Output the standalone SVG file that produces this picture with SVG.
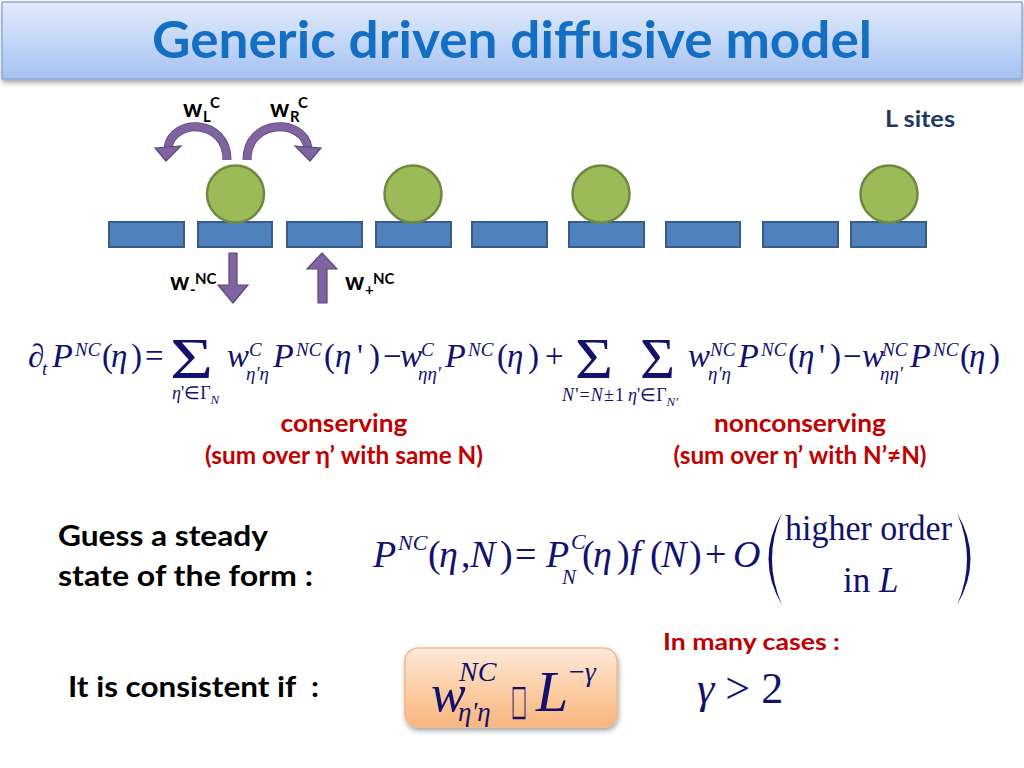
<svg xmlns="http://www.w3.org/2000/svg" width="1024" height="768" viewBox="0 0 1024 768">
<defs>
<linearGradient id="hdr" x1="0" y1="0" x2="0" y2="1">
<stop offset="0" stop-color="#e2ebfb"/>
<stop offset="1" stop-color="#a6c2f2"/>
</linearGradient>
<linearGradient id="peach" x1="0" y1="0" x2="0" y2="1">
<stop offset="0" stop-color="#fde9da"/>
<stop offset="0.5" stop-color="#fccfa8"/>
<stop offset="1" stop-color="#f9b57e"/>
</linearGradient>
<filter id="sh" x="-10%" y="-10%" width="130%" height="140%">
<feDropShadow dx="1" dy="3" stdDeviation="2.5" flood-color="#000" flood-opacity="0.35"/>
</filter>
</defs>
<style>
.m{font-family:"Liberation Serif","Times New Roman",serif;fill:#12126e}
.i{font-style:italic}
.s{font-family:Lato,"Open Sans",sans-serif;font-weight:bold}
.red{fill:#c00000}
.blk{fill:#000}
.site{fill:#4f81bd;stroke:#385d8a;stroke-width:2}
.ball{fill:#9bbb59;stroke:#71893f;stroke-width:2.5}
.arw{fill:#8064a2;stroke:#5c4776;stroke-width:1.2}
.arc{fill:none;stroke:#8064a2;stroke-width:7.5}
.arco{fill:none;stroke:#5c4776;stroke-width:9}
</style>
<rect width="1024" height="768" fill="#ffffff"/>

<g id="header">
<rect x="2" y="2" width="1020" height="77" fill="url(#hdr)" stroke="#8eaadf" stroke-width="1.5" filter="url(#sh)"/>
<text x="152" y="58" class="s" font-size="52" fill="#136fc4" textLength="720" lengthAdjust="spacingAndGlyphs">Generic driven diffusive model</text>
</g>

<g id="lattice">
<g id="site1"><rect class="site" x="109" y="222" width="75" height="25"/></g>
<g id="site2"><rect class="site" x="198" y="222" width="74" height="25"/></g>
<g id="site3"><rect class="site" x="287" y="222" width="75" height="25"/></g>
<g id="site4"><rect class="site" x="376" y="222" width="75" height="25"/></g>
<g id="site5"><rect class="site" x="472" y="222" width="75" height="25"/></g>
<g id="site6"><rect class="site" x="569" y="222" width="75" height="25"/></g>
<g id="site7"><rect class="site" x="666" y="222" width="74" height="25"/></g>
<g id="site8"><rect class="site" x="763" y="222" width="75" height="25"/></g>
<g id="site9"><rect class="site" x="851" y="222" width="75" height="25"/></g>
<g id="particle1"><circle class="ball" cx="235.5" cy="194" r="28.5"/></g>
<g id="particle2"><circle class="ball" cx="413" cy="194" r="28.5"/></g>
<g id="particle3"><circle class="ball" cx="601" cy="194" r="28.5"/></g>
<g id="particle4"><circle class="ball" cx="889" cy="194" r="28.5"/></g>
</g>

<g id="connectors">
<path class="arco" d="M227 160 C227 118 172 118 168 148"/>
<path class="arc" d="M227 160 C227 118 172 118 168 148"/>
<polygon class="arw" points="155,148 181,146 166,161"/>
<path class="arco" d="M247 160 C247 118 304 118 308 148"/>
<path class="arc" d="M247 160 C247 118 304 118 308 148"/>
<polygon class="arw" points="295,146 321,148 310,161"/>
<polygon class="arw" points="229,253 237,253 237,285 248,285 233,303 218,285 229,285"/>
<polygon class="arw" points="322,253 337,269 327,269 327,303 318,303 318,269 307,269"/>
</g>

<g id="rate-labels" class="s blk">
<text x="183" y="117" font-size="24">w</text>
<text x="203" y="122" font-size="15">L</text>
<text x="210" y="108" font-size="15">C</text>
<text x="270" y="117" font-size="24">w</text>
<text x="290" y="122" font-size="15">R</text>
<text x="298" y="108" font-size="15">C</text>
<text x="170" y="290" font-size="24">w</text>
<text x="190" y="295" font-size="15">-</text>
<text x="195" y="284" font-size="15">NC</text>
<text x="345" y="290" font-size="24">w</text>
<text x="365" y="295" font-size="15">+</text>
<text x="373" y="284" font-size="15">NC</text>
</g>

<text id="lsites" x="885" y="127" class="s" font-size="23" fill="#1f3864" textLength="70" lengthAdjust="spacingAndGlyphs">L sites</text>

<g id="master-equation" class="m">
<text x="28" y="367" font-size="33">∂</text>
<text x="42" y="375" font-size="19" class="i">t</text>
<text x="52" y="367" font-size="34" class="i">P</text>
<text x="75" y="356" font-size="19" class="i">NC</text>
<text x="102 111 131" y="367" font-size="33">(<tspan class="i">η</tspan>)</text>
<text x="145" y="367" font-size="33">=</text>
<text x="170" y="378" font-size="56" textLength="43" lengthAdjust="spacingAndGlyphs">Σ</text>
<text x="172" y="399" font-size="18"><tspan class="i">η</tspan>'∈Γ<tspan class="i" font-size="13" dy="5">N</tspan></text>
<text x="227" y="367" font-size="33" class="i">w</text>
<text x="249" y="356" font-size="19" class="i">C</text>
<text x="246" y="380" font-size="19" class="i">η'η</text>
<text x="273" y="367" font-size="34" class="i">P</text>
<text x="296" y="356" font-size="19" class="i">NC</text>
<text x="324 335 357 369" y="367" font-size="33">(<tspan class="i">η</tspan>')</text>
<text x="383" y="367" font-size="33">−</text>
<text x="400" y="367" font-size="33" class="i">w</text>
<text x="421" y="356" font-size="19" class="i">C</text>
<text x="418" y="380" font-size="19" class="i">ηη'</text>
<text x="445" y="367" font-size="34" class="i">P</text>
<text x="468" y="356" font-size="19" class="i">NC</text>
<text x="497 507 528" y="367" font-size="33">(<tspan class="i">η</tspan>)</text>
<text x="545" y="367" font-size="33">+</text>
<text x="575" y="378" font-size="56" textLength="38" lengthAdjust="spacingAndGlyphs">Σ</text>
<text x="640" y="378" font-size="56" textLength="35" lengthAdjust="spacingAndGlyphs">Σ</text>
<text x="562" y="401" font-size="18" textLength="62" lengthAdjust="spacing"><tspan class="i">N</tspan>'=<tspan class="i">N</tspan>±1</text>
<text x="628" y="401" font-size="18"><tspan class="i">η</tspan>'∈Γ<tspan class="i" font-size="13" dy="5">N'</tspan></text>
<text x="688" y="367" font-size="33" class="i">w</text>
<text x="710" y="356" font-size="19" class="i">NC</text>
<text x="708" y="380" font-size="19" class="i">η'η</text>
<text x="738" y="367" font-size="34" class="i">P</text>
<text x="761" y="356" font-size="19" class="i">NC</text>
<text x="788 798 819 830" y="367" font-size="33">(<tspan class="i">η</tspan>')</text>
<text x="843" y="367" font-size="33">−</text>
<text x="862" y="367" font-size="33" class="i">w</text>
<text x="882" y="356" font-size="19" class="i">NC</text>
<text x="880" y="380" font-size="19" class="i">ηη'</text>
<text x="910" y="367" font-size="34" class="i">P</text>
<text x="933" y="356" font-size="19" class="i">NC</text>
<text x="960 969 989" y="367" font-size="33">(<tspan class="i">η</tspan>)</text>
</g>

<g id="annotations" class="s red" text-anchor="middle">
<text x="344" y="432" font-size="24" textLength="127" lengthAdjust="spacingAndGlyphs">conserving</text>
<text x="344" y="464" font-size="24" textLength="278" lengthAdjust="spacingAndGlyphs">(sum over η’ with same N)</text>
<text x="800" y="432" font-size="24" textLength="172" lengthAdjust="spacingAndGlyphs">nonconserving</text>
<text x="800" y="464" font-size="24" textLength="253" lengthAdjust="spacingAndGlyphs">(sum over η’ with N’≠N)</text>
</g>

<g id="guess-text" class="s blk" font-size="28">
<text x="58" y="546" textLength="210" lengthAdjust="spacingAndGlyphs">Guess a steady</text>
<text x="58" y="586" textLength="255" lengthAdjust="spacingAndGlyphs">state of the form :</text>
</g>

<g id="steady-state" class="m">
<text x="373" y="567" font-size="38" class="i">P</text>
<text x="398" y="550" font-size="22" class="i">NC</text>
<text x="428 439 461 470 500" y="567" font-size="38">(<tspan class="i">η</tspan>,<tspan class="i">N</tspan>)</text>
<text x="515" y="567" font-size="38">=</text>
<text x="546" y="567" font-size="38" class="i">P</text>
<text x="571" y="549" font-size="22" class="i">C</text>
<text x="562" y="584" font-size="21" class="i">N</text>
<text x="582 593 617" y="567" font-size="38">(<tspan class="i">η</tspan>)</text>
<text x="630" y="567" font-size="38" class="i">f</text>
<text x="650 661 689" y="567" font-size="38">(<tspan class="i">N</tspan>)</text>
<text x="705" y="567" font-size="38">+</text>
<text x="733" y="567" font-size="38" class="i">O</text>
<path d="M782 513 Q755 559 782 605 Q762 559 782 513 Z" fill="#12126e"/>
<path d="M957 513 Q984 559 957 605 Q977 559 957 513 Z" fill="#12126e"/>
<text x="785" y="540" font-size="35" textLength="167" lengthAdjust="spacingAndGlyphs">higher order</text>
<text x="843" y="592" font-size="35">in <tspan class="i">L</tspan></text>
</g>

<text id="consistent" x="68" y="697" class="s blk" font-size="28" xml:space="preserve" textLength="251" lengthAdjust="spacingAndGlyphs">It is consistent if  :</text>

<g id="condition-box">
<rect x="405" y="648" width="212" height="79" rx="13" fill="url(#peach)" stroke="#f5b889" stroke-width="1.5" filter="url(#sh)"/>
<g class="m">
<text x="431" y="711" font-size="52" class="i">w</text>
<text x="459" y="681" font-size="28" class="i">NC</text>
<text x="458" y="721" font-size="27" class="i">η'η</text>
<text transform="translate(511,714) scale(0.42,1.05)" font-size="40" font-family="'DejaVu Sans',sans-serif" fill="#12126e">□</text>
<text x="536" y="711" font-size="58" class="i">L</text>
<text x="569" y="681" font-size="28">−<tspan class="i">γ</tspan></text>
</g>
</g>

<g id="many-cases">
<text x="663" y="650" class="s red" font-size="22" textLength="177" lengthAdjust="spacingAndGlyphs">In many cases :</text>
<text class="m" x="697" y="703" font-size="44"><tspan class="i">γ</tspan> &gt; 2</text>
</g>
</svg>
